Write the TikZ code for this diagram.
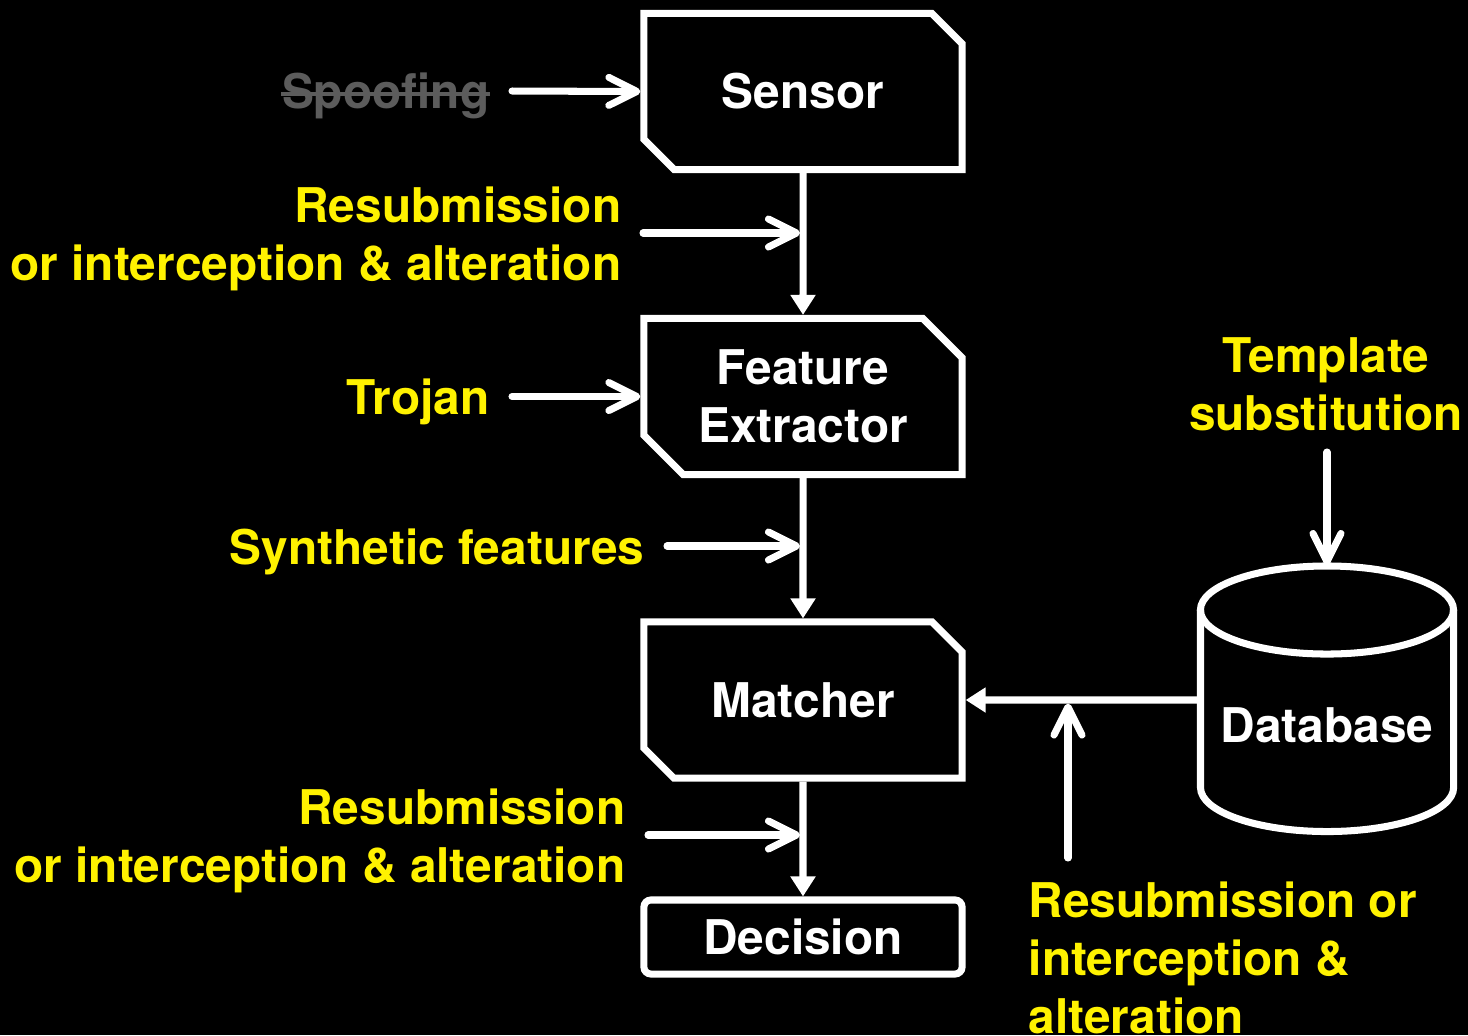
\documentclass[tikz,border=0pt]{standalone}
\usepackage{fontspec}
\setmainfont{TeX Gyre Heros}
\usetikzlibrary{arrows.meta,shapes.misc}
\definecolor{spoofgray}{HTML}{5C5C5C}
\tikzset{
  blk/.style={draw=white, line width=2pt, text=white, align=center, inner sep=0pt,
    chamfered rectangle, chamfered rectangle corners={north east,south west},
    chamfered rectangle xsep=0.27cm, minimum width=3.18cm, minimum height=1.56cm},
  dec/.style={draw=white, line width=2pt, text=white, inner sep=0pt, rounded corners=2pt,
    minimum width=3.18cm, minimum height=0.74cm},
  flow/.style={draw=white, line width=2pt, -{Triangle[width=0.24cm,length=0.2cm]}},
  attack/.style={draw=white, line width=2pt, line cap=round,
    -{Straight Barb[round,width=0.28cm,length=0.28cm]}},
  lbl/.style={text=yellow, inner sep=0pt},
}
\begin{document}
\begin{tikzpicture}[x=0.01cm, y=-0.01cm, font=\bfseries\fontsize{13.6}{16.5}\selectfont]
\path[use as bounding box, fill=black] (0,0) rectangle (1468,1035);

\node[blk] (sensor) at (803,91.5) {Sensor};
\node[blk] (feat) at (803,396.5) {Feature\\Extractor};
\node[blk] (match) at (803,700) {Matcher};
\node[dec] (decis) at (803,937) {Decision};
\draw[flow] (sensor) -- (feat);
\draw[flow] (feat) -- (match);
\draw[flow] (match) -- (decis);

% database
\draw[white, line width=2pt] (1200.5,610) -- (1200.5,787.5) arc (180:360:1.265cm and 0.44cm) -- (1453.5,610);
\draw[white, line width=2pt] (1327,610) ellipse [x radius=1.265cm, y radius=0.44cm];
\node[text=white, inner sep=0pt] (db) at (1327,725) {Database};
\coordinate (dbl) at (1200.5,700);
\draw[flow] (dbl) -- (match);

\node[text=spoofgray, inner sep=0pt, anchor=base east] (spoof) at (490,108) {Spoofing};
\draw[spoofgray, line width=0.9pt] ([yshift=0.14cm]spoof.base west) -- ([yshift=0.14cm]spoof.base east);
\coordinate (sp) at (512,91);
\draw[attack] (sp) -- (sensor.west);

\node[lbl, align=right, anchor=north east] (resub1) at (622,186) {Resubmission\\or interception \& alteration};
\coordinate (r1) at (643,233);
\coordinate (r1e) at (800,233);
\draw[attack] (r1) -- (r1e);

\node[lbl, anchor=base east] (trojan) at (490,414) {Trojan};
\coordinate (tj) at (512,396.5);
\draw[attack] (tj) -- (feat.west);

\node[lbl, align=right, anchor=base east] (synth) at (645,564) {Synthetic features};
\coordinate (sy) at (667,546);
\coordinate (sye) at (800,546);
\draw[attack] (sy) -- (sye);

\node[lbl, align=right, anchor=north east] (resub2) at (626,788) {Resubmission\\or interception \& alteration};
\coordinate (r2) at (648,835);
\coordinate (r2e) at (800,835);
\draw[attack] (r2) -- (r2e);

\node[lbl, align=center, anchor=north] (tmpl) at (1326,337) {Template\\substitution};
\coordinate (tp) at (1327,452);
\coordinate (dbtop) at (1327,565);
\draw[attack] (tp) -- (dbtop);

\node[lbl, align=left, anchor=north west] (resub3) at (1028,881) {Resubmission or\\interception \&\\alteration};
\coordinate (r3) at (1068,858);
\coordinate (r3e) at (1068,703.5);
\draw[attack] (r3) -- (r3e);
\end{tikzpicture}
\end{document}
